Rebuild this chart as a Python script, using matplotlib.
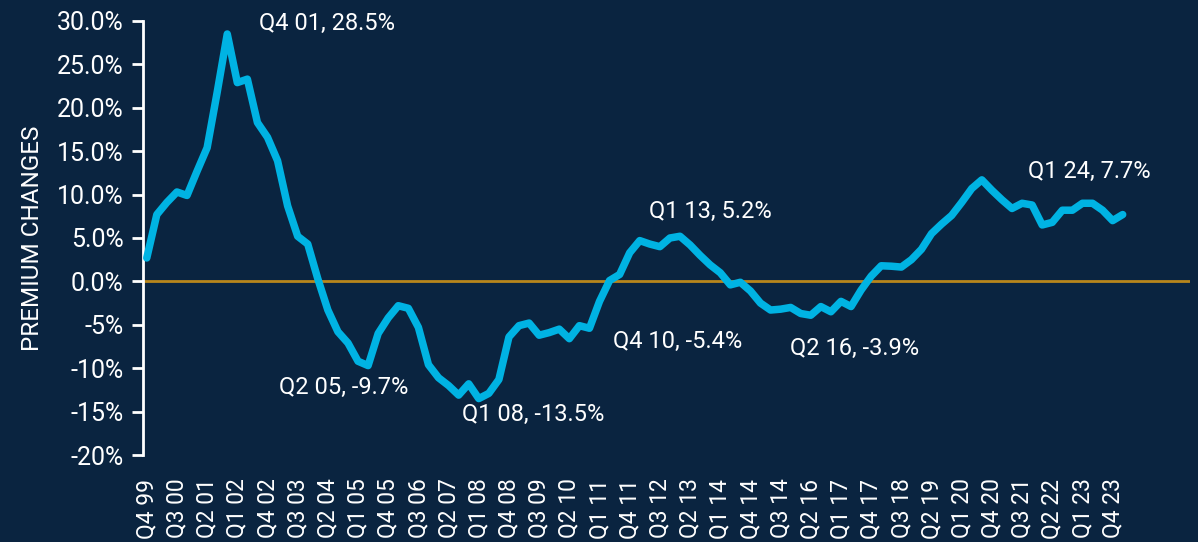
import matplotlib
matplotlib.use("Agg")
import matplotlib.pyplot as plt
from matplotlib.ticker import FuncFormatter

# ---- data ----
premium_change = [
    2.7, 7.7, 9.1, 10.3, 9.9, 12.7, 15.4, 21.8, 28.5, 22.9,
    23.3, 18.3, 16.6, 13.9, 8.7, 5.2, 4.3, 0.3, -3.3, -5.8,
    -7.1, -9.2, -9.7, -6.0, -4.2, -2.8, -3.1, -5.3, -9.6, -11.1,
    -12.0, -13.1, -11.8, -13.5, -12.9, -11.3, -6.4, -5.1, -4.8, -6.2,
    -5.9, -5.5, -6.6, -5.1, -5.4, -2.3, 0.1, 0.8, 3.3, 4.7,
    4.3, 4.0, 5.0, 5.2, 4.2, 3.0, 1.9, 1.0, -0.4, -0.1,
    -1.1, -2.5, -3.3, -3.2, -3.0, -3.7, -3.9, -2.9, -3.5, -2.3,
    -2.9, -1.0, 0.6, 1.8, 1.75, 1.65, 2.5, 3.7, 5.5, 6.6,
    7.6, 9.1, 10.7, 11.7, 10.5, 9.4, 8.4, 9.0, 8.8, 6.5,
    6.8, 8.2, 8.2, 9.0, 9.0, 8.2, 7.0, 7.7,
]

tick_labels = [
    "Q4 99", "Q3 00", "Q2 01", "Q1 02", "Q4 02", "Q3 03", "Q2 04", "Q1 05",
    "Q4 05", "Q3 06", "Q2 07", "Q1 08", "Q4 08", "Q3 09", "Q2 10", "Q1 11",
    "Q4 11", "Q3 12", "Q2 13", "Q1 14", "Q4 14", "Q3 14", "Q2 16", "Q1 17",
    "Q4 17", "Q3 18", "Q2 19", "Q1 20", "Q4 20", "Q3 21", "Q2 22", "Q1 23",
    "Q4 23",
]

annot_texts = ["Q4 01, 28.5%", "Q2 05, -9.7%", "Q1 08, -13.5%", "Q4 10, -5.4%",
               "Q1 13, 5.2%", "Q2 16, -3.9%", "Q1 24, 7.7%"]
annot_x = [11.2, 13.1, 31.3, 46.3, 49.9, 63.9, 87.6]
annot_y = [29.7, -12.2, -15.3, -6.9, 8.1, -7.7, 12.7]

y_ticks = [30, 25, 20, 15, 10, 5, 0, -5, -10, -15, -20]

# ---- style ----
BG = "#0A2440"
LINE = "#00B3E3"
GOLD = "#B8861B"
FONT = ["Roboto", "DejaVu Sans"]
plt.rcParams["font.family"] = FONT

fig = plt.figure(figsize=(11.98, 5.42), dpi=100, facecolor=BG)
ax = fig.add_axes([0.1194, 0.1605, 0.874, 0.8008], facecolor=BG)

x = list(range(len(premium_change)))
ax.axhline(0, color=GOLD, lw=2.0, zorder=1)
ax.plot(x, premium_change, color=LINE, lw=5.4, solid_joinstyle="round",
        solid_capstyle="round", zorder=3)

ax.set_xlim(-0.37, 103.7)
ax.set_ylim(-20, 30)

ax.set_yticks(y_ticks)
ax.yaxis.set_major_formatter(FuncFormatter(
    lambda v, p: f"{v:.1f}%" if v >= 0 else f"{v:.0f}%"))
ax.tick_params(axis="y", colors="white", labelsize=18, length=8, width=2, pad=6)

ax.set_xticks(list(range(0, 97, 3)))
ax.set_xticklabels(tick_labels, rotation=90, va="top", ha="center")
ax.tick_params(axis="x", colors="white", labelsize=16.5, length=0, pad=17)

for s in ["top", "right", "bottom"]:
    ax.spines[s].set_visible(False)
ax.spines["left"].set_color("white")
ax.spines["left"].set_linewidth(2)

ax.set_ylabel("PREMIUM CHANGES", color="white", fontsize=17.5, labelpad=9)

for t, tx, ty in zip(annot_texts, annot_x, annot_y):
    ax.text(tx, ty, t, color="white", fontsize=17, ha="left", va="center",
            zorder=4)

fig.savefig("out.png", dpi=100, facecolor=BG)
